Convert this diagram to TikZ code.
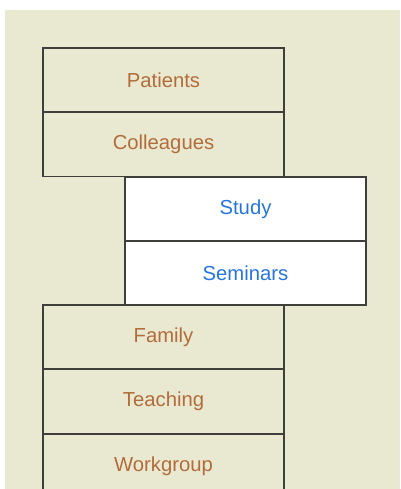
\documentclass[tikz,border=0pt]{standalone}
\usepackage{fontspec}
\setmainfont{Liberation Sans}
\usepackage{xcolor}
\definecolor{bgbeige}{RGB}{233,233,210}
\definecolor{boxline}{RGB}{62,62,58}
\definecolor{txtbrown}{RGB}{178,108,58}
\definecolor{txtblue}{RGB}{38,118,226}

\begin{document}
\begin{tikzpicture}[x=0.75pt,y=0.75pt,yscale=-1,xscale=1,
    groupbox/.style={draw=boxline, line width=1.4pt, minimum width=180.75pt, minimum height=48pt, inner sep=0pt, font=\fontsize{15.2}{18}\selectfont},
    outbox/.style={groupbox, fill=bgbeige, text=txtbrown},
    inbox/.style={groupbox, fill=white, text=txtblue}]
    \clip (0,0) rectangle (400,489) ;
    
    % Background
    \fill [bgbeige] (5,10) rectangle (400,489) ;
    
    % Text Node
    \node [outbox] (patients) at (163.5,80) {Patients};
    % Text Node
    \node [outbox] (colleagues) at (163.5,144.5) {Colleagues};
    % Text Node
    \node [inbox] (study) at (245.5,209) {Study};
    % Text Node
    \node [inbox] (seminars) at (245.5,273) {Seminars};
    % Text Node
    \node [outbox] (family) at (163.5,337) {Family};
    % Text Node
    \node [outbox] (teaching) at (163.5,401.5) {Teaching};
    % Text Node
    \node [outbox] (workgroup) at (163.5,466) {Workgroup};
    
\end{tikzpicture}
\end{document}
